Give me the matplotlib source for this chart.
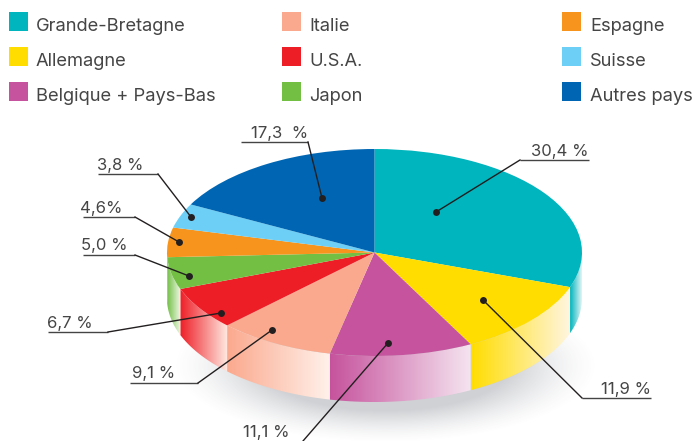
import numpy as np
import matplotlib
matplotlib.use("Agg")
import matplotlib.pyplot as plt
from matplotlib.colors import to_rgb
from matplotlib.patches import Polygon, Rectangle

# ---- data ----
countries = ["Grande-Bretagne", "Allemagne", "Belgique + Pays-Bas", "Italie", "U.S.A.",
             "Japon", "Espagne", "Suisse", "Autres pays"]
shares = [30.4, 11.9, 11.1, 9.1, 6.7, 5.0, 4.6, 3.8, 17.3]
share_labels = ["30,4 %", "11,9 %", "11,1 %", "9,1 %", "6,7 %", "5,0 %", "4,6%", "3,8 %", "17,3  %"]
colors = ["#00B5BD", "#FFDD00", "#C6539D", "#FBA98E", "#EE1E27",
          "#72BF44", "#F7941D", "#6DCFF6", "#0066B3"]
wall_pale = ["#E4F5F5", "#FFF6E0", "#F5E4F0", "#FFF1EA", "#FFE6DE", "#F2F9EA", "#FFFFFF", "#FFFFFF", "#FFFFFF"]

# ---- layout (pixels) ----
W, H = 694, 441
cx, cy, rx, ry, depth = 374.5, 252.5, 207.5, 103.5, 46
TXT = "#454545"
FONT = "Inter"
FS_LEGEND = 13.2
FS_LABEL = 12.0

fig = plt.figure(figsize=(W / 100, H / 100), dpi=100)
bg = fig.add_axes([0, 0, 1, 1], zorder=1)
bg.set_xlim(0, W); bg.set_ylim(H, 0); bg.axis("off")

# soft shadow under the disc
sx, sy = np.meshgrid(np.arange(0, W), np.arange(0, H))
d = np.sqrt(((sx - 385) / 165.0) ** 2 + ((sy - 365) / 60.0) ** 2)
alpha = np.clip((1.30 - d) / 0.55, 0, 1) ** 1.5 * 0.27
shadow = np.zeros((H, W, 4))
shadow[..., :3] = (0.30, 0.33, 0.38)
shadow[..., 3] = alpha
bg.imshow(shadow, extent=(0, W, H, 0), aspect="auto", zorder=1, interpolation="bilinear")
bg.set_xlim(0, W); bg.set_ylim(H, 0)

# side wall, one gradient piece per visible slice
edges = 90 - 360 * np.cumsum([0] + shares) / sum(shares)
for i in range(len(shares)):
    a0, a1 = edges[i + 1] % 360, edges[i] % 360
    if a1 <= a0:
        a1 += 360
    lo, hi = max(a0, 180), min(a1, 360)
    if hi <= lo:
        continue
    t = np.radians(np.linspace(lo, hi, 80))
    x = cx + rx * np.cos(t)
    y = cy - ry * np.sin(t)
    poly = np.vstack([np.c_[x, y], np.c_[x[::-1], y[::-1] + depth]])
    c0, c1 = np.array(to_rgb(colors[i])), np.array(to_rgb(wall_pale[i]))
    ramp = np.linspace(0, 1, 128)[None, :, None]
    grad = c0 + (c1 - c0) * ramp
    im = bg.imshow(grad, extent=(x.min(), x.max(), y.max() + depth, y.min()), aspect="auto", zorder=2)
    im.set_clip_path(Polygon(poly, closed=True, transform=bg.transData))
bg.set_xlim(0, W); bg.set_ylim(H, 0)

# top face: the library's pie, squeezed into the ellipse box
top = fig.add_axes([(cx - rx) / W, 1 - (cy + ry) / H, 2 * rx / W, 2 * ry / H], zorder=2)
top.pie(shares, colors=colors, startangle=90, counterclock=False, radius=1,
        wedgeprops=dict(linewidth=0))
top.set_aspect("auto")
top.set_xlim(-1, 1); top.set_ylim(-1, 1)
top.patch.set_alpha(0)

# overlay: legend and callouts
ov = fig.add_axes([0, 0, 1, 1], zorder=3)
ov.set_xlim(0, W); ov.set_ylim(H, 0); ov.axis("off")

legend_x = [(9, 36), (282, 309), (562, 590)]
legend_y = [12, 47, 82]
for i, name in enumerate(countries):
    sxp, txp = legend_x[i // 3]
    syp = legend_y[i % 3]
    ov.add_patch(Rectangle((sxp, syp), 19, 19, fc=colors[i], ec="none"))
    ov.text(txp, syp + 19, name, fontsize=FS_LEGEND, color=TXT, family=FONT, va="baseline", ha="left")

# label: text right x, baseline y, underline y, underline x0, x1, elbow end, dot
callouts = [
    (589, 156, 160, 520, 589, (520, 160), (436, 212)),
    (651, 394, 398, 582, 651, (582, 398), (483, 300)),
    (290, 437, None, None, None, (303, 441), (388, 343)),
    (175, 378, 383, 130, 198, (198, 383), (272, 330)),
    (93, 328, 332, 48, 108, (108, 332), (221, 313)),
    (128, 250, 255, 83, 135, (135, 255), (189, 276)),
    (122, 213, 217, 83, 135, (135, 217), (179, 242)),
    (143, 170, 174, 98, 158, (158, 174), (191, 217)),
    (308, 138, 142, 241, 308, (308, 142), (322, 198)),
]
for lab, (tx, by, uy, ux0, ux1, elbow, dot) in zip(share_labels, callouts):
    ov.text(tx, by, lab, fontsize=FS_LABEL, color=TXT, family=FONT, ha="right", va="baseline")
    if uy is not None:
        ov.plot([ux0, ux1], [uy, uy], color="#444444", lw=1.0, solid_capstyle="butt")
    ov.plot([elbow[0], dot[0]], [elbow[1], dot[1]], color="#231F20", lw=1.0)
    ov.plot([dot[0]], [dot[1]], "o", color="#231F20", ms=5.0, mew=0)

fig.savefig("out.png", dpi=100, facecolor="white")
